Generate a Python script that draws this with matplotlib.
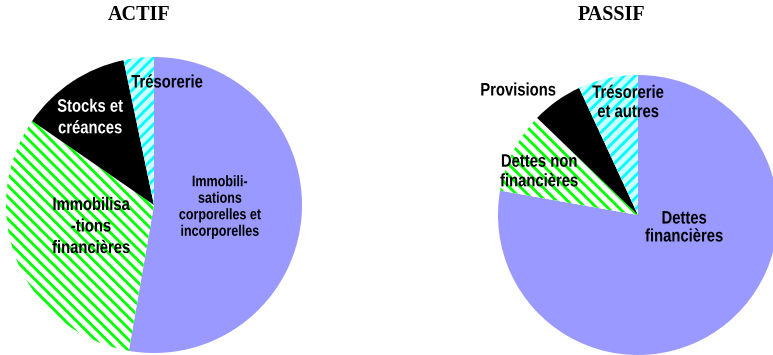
import matplotlib
matplotlib.use("Agg")
import matplotlib.pyplot as plt
from matplotlib.patheffects import AbstractPathEffect
from matplotlib.transforms import Affine2D

plt.rcParams['hatch.linewidth'] = 2.0

# ---- data ----
actif_labels = ["Immobili-\nsations\ncorporelles et\nincorporelles",
                "Immobilisa\n-tions\nfinancières",
                "Stocks et\ncréances",
                "Trésorerie"]
actif_values = [52.75, 31.9, 12.1, 3.3]

passif_labels = ["Dettes\nfinancières",
                 "Dettes non\nfinancières",
                 "Provisions",
                 "Trésorerie\net autres"]
passif_values = [77.75, 9.4, 5.9, 6.9]

titles = ["ACTIF", "PASSIF"]

# ---- styles ----
faces = ['#9999FF', '#FFFFFF', '#000000', '#CCFFFF']
edges = ['#9999FF', '#00FF00', '#000000', '#00FFFF']
hatches = [None, '\\\\\\', None, '///']


class Condense(AbstractPathEffect):
    """Draw text horizontally condensed (like a narrow font)."""
    def __init__(self, sx):
        super().__init__()
        self.sx = sx

    def draw_path(self, renderer, gc, tpath, affine, rgbFace=None):
        ext = tpath.get_extents(affine)
        cx = 0.5 * (ext.x0 + ext.x1)
        t = affine + Affine2D().translate(-cx, 0).scale(self.sx, 1).translate(cx, 0)
        renderer.draw_path(gc, tpath, t, rgbFace)


W, H = 773, 355
fig = plt.figure(figsize=(W / 100, H / 100), dpi=100)
ax = fig.add_axes([0, 0, 1, 1])

pies = [
    dict(values=actif_values, labels=actif_labels, center=(154, H - 205), r=148,
         label_pos=[(220, 207), (91, 227), (90, 118), (167, 83)],
         sizes=[11, 13, 13, 13],
         spacing=[1.23, 1.35, 1.35, 1.2],
         colors=['black', 'black', 'white', 'black']),
    dict(values=passif_values, labels=passif_labels, center=(638, H - 215), r=140,
         label_pos=[(684, 228), (539, 172), (518, 91), (628, 103)],
         sizes=[13, 13, 13, 13],
         spacing=[1.07, 1.2, 1.2, 1.17],
         colors=['black', 'black', 'black', 'black']),
]

font_lbl = ['Liberation Sans', 'DejaVu Sans']

for p in pies:
    wedges, _ = ax.pie(p['values'], center=p['center'], radius=p['r'],
                       startangle=90, counterclock=False, frame=True)
    for i, w in enumerate(wedges):
        w.set_facecolor(faces[i])
        w.set_edgecolor(edges[i])
        w.set_linewidth(0)
        if hatches[i]:
            w.set_hatch(hatches[i])
    for i, (lbl, (x, y)) in enumerate(zip(p['labels'], p['label_pos'])):
        ax.text(x, H - y, lbl, ha='center', va='center', multialignment='center',
                fontsize=p['sizes'][i], fontweight='bold', color=p['colors'][i],
                family=font_lbl, linespacing=p['spacing'][i],
                path_effects=[Condense(0.82)])

ax.set_xlim(0, W)
ax.set_ylim(0, H)
ax.set_aspect('equal')
ax.axis('off')

fig.text(139 / W, 1 - 15 / H, titles[0], ha='center', va='center',
         fontsize=14.5, fontweight='bold', family=['Liberation Serif', 'DejaVu Serif'])
fig.text(611 / W, 1 - 15 / H, titles[1], ha='center', va='center',
         fontsize=14.5, fontweight='bold', family=['Liberation Serif', 'DejaVu Serif'])

fig.savefig('out.png', dpi=100)
